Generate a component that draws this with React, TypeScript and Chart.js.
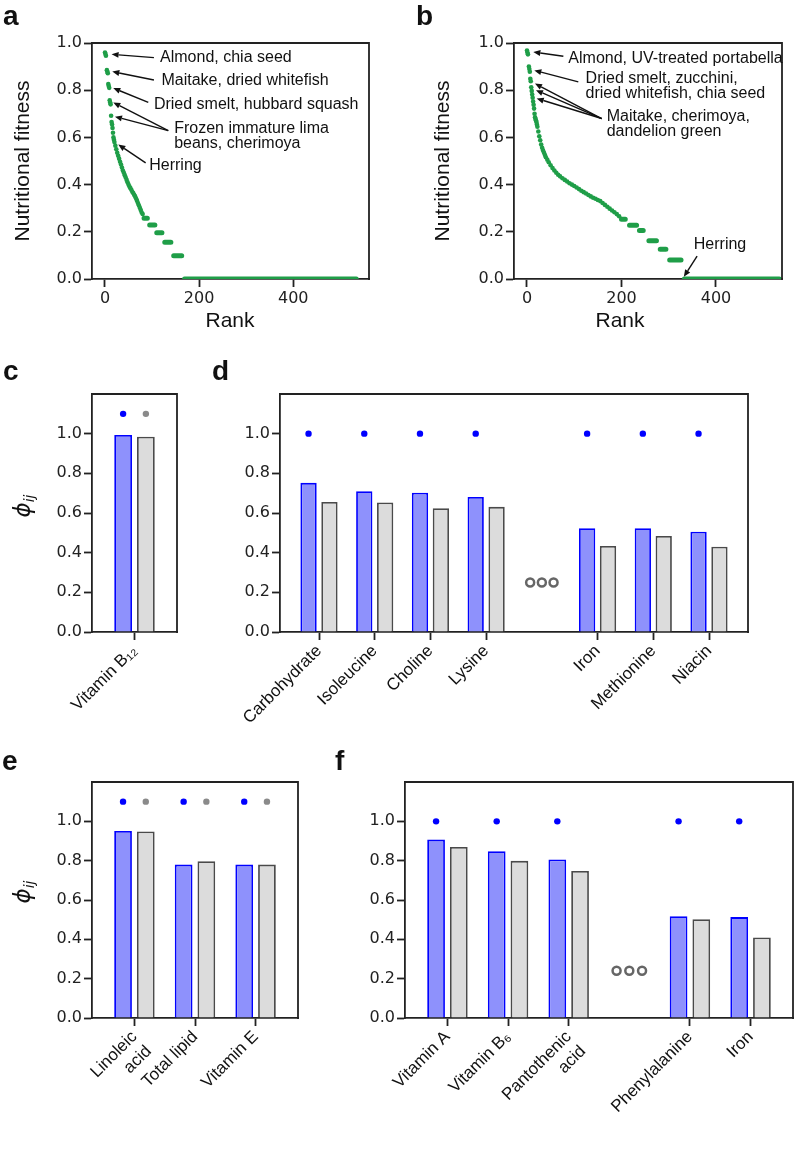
import React, { useEffect, useRef } from "react";
import { Chart, registerables } from "chart.js";

// ---------------- data ----------------
const RANK_TICKS = [0, 200, 400];
const FITNESS_TICKS = [0, 0.2, 0.4, 0.6, 0.8, 1.0];
const PHI_TICKS = [0, 0.2, 0.4, 0.6, 0.8, 1.0];

// panel a: ranked foods (distinct points) + plateaus of equal fitness
const A_RANK = [0, 1, 2, 4, 5, 6, 7, 8, 9, 10, 11, 12, 13, 14, 15, 16, 17, 18, 19, 20, 22, 24, 26, 28, 30, 32, 34, 36, 38, 40, 42, 44, 46, 48, 50, 52, 54, 56, 58, 60, 62, 64, 66, 68, 70, 72, 74, 76, 78, 80];
const A_FITNESS = [0.960, 0.953, 0.946, 0.885, 0.878, 0.872, 0.826, 0.818, 0.810, 0.757, 0.748, 0.740, 0.692, 0.665, 0.655, 0.640, 0.620, 0.600, 0.590, 0.580, 0.565, 0.550, 0.535, 0.522, 0.510, 0.497, 0.485, 0.472, 0.460, 0.450, 0.440, 0.430, 0.420, 0.410, 0.400, 0.392, 0.385, 0.378, 0.370, 0.364, 0.357, 0.350, 0.341, 0.332, 0.322, 0.312, 0.302, 0.292, 0.282, 0.275];
const A_STEP_FROM = [83, 95, 110, 127, 146, 169];
const A_STEP_TO = [90, 106, 121, 140, 163, 534];
const A_STEP_FITNESS = [0.257, 0.229, 0.196, 0.156, 0.098, 0];

// panel b
const B_RANK = [0, 1, 2, 4, 5, 6, 7, 8, 9, 10, 11, 12, 13, 14, 15, 16, 17, 18, 19, 20, 21, 22, 24, 26, 28, 30, 32, 34, 36, 38, 40, 43, 46, 50, 54, 58, 62, 66, 70, 75, 80, 85, 90, 95, 100, 105, 110, 115, 120, 125, 130, 135, 140, 145, 150, 155, 160, 165, 170, 175, 180, 185, 190, 195];
const B_FITNESS = [0.968, 0.960, 0.952, 0.900, 0.890, 0.878, 0.848, 0.838, 0.812, 0.797, 0.782, 0.768, 0.752, 0.738, 0.722, 0.700, 0.685, 0.678, 0.672, 0.665, 0.655, 0.645, 0.625, 0.605, 0.588, 0.570, 0.556, 0.545, 0.535, 0.525, 0.516, 0.505, 0.495, 0.482, 0.470, 0.460, 0.450, 0.442, 0.435, 0.427, 0.420, 0.413, 0.406, 0.400, 0.394, 0.388, 0.381, 0.374, 0.368, 0.362, 0.356, 0.350, 0.344, 0.340, 0.335, 0.330, 0.322, 0.314, 0.306, 0.298, 0.290, 0.283, 0.275, 0.266];
const B_STEP_FROM = [200, 217, 238, 258, 282, 302, 333];
const B_STEP_TO = [208, 232, 246, 274, 294, 326, 534];
const B_STEP_FITNESS = [0.253, 0.228, 0.205, 0.162, 0.126, 0.080, 0];

// annotations: text anchor, arrow tail and tips in (rank, fitness)
const A_NOTES = [
  { lines: ["Almond, chia seed"], text: [117, 0.937], tail: [104, 0.938], tips: [[14, 0.952]] },
  { lines: ["Maitake, dried whitefish"], text: [120, 0.84], tail: [104, 0.843], tips: [[15.5, 0.879]] },
  { lines: ["Dried smelt, hubbard squash"], text: [104, 0.741], tail: [92, 0.748], tips: [[17.6, 0.809]] },
  { lines: ["Frozen immature lima", "beans, cherimoya"], text: [147, 0.636], tail: [134.5, 0.629], tips: [[17.6, 0.748], [21.2, 0.688]] },
  { lines: ["Herring"], text: [94, 0.481], tail: [86.4, 0.492], tips: [[28.3, 0.57]] },
];
const B_NOTES = [
  { lines: ["Almond, UV-treated portabella"], text: [87.5, 0.934], tail: [77, 0.944], tips: [[13.4, 0.962]] },
  { lines: ["Dried smelt, zucchini,", "dried whitefish, chia seed"], text: [124, 0.849], tail: [108.6, 0.835], tips: [[15.5, 0.884]] },
  { lines: ["Maitake, cherimoya,", "dandelion green"], text: [168.7, 0.687], tail: [158, 0.68], tips: [[16.9, 0.828], [19, 0.8], [20.5, 0.765]] },
  { lines: ["Herring"], text: [353, 0.144], tail: [360, 0.097], tips: [[332, 0.01]] },
];

// bar panels (null = gap shown as "ooo")
const C_NUTRIENTS = ["Vitamin B₁₂"];
const C_BLUE = [0.993];
const C_GRAY = [0.985];
const C_BLUE_DOT = [1.1];
const C_GRAY_DOT = [1.1];

const D_NUTRIENTS = ["Carbohydrate", "Isoleucine", "Choline", "Lysine", null, "Iron", "Methionine", "Niacin"];
const D_BLUE = [0.752, 0.71, 0.702, 0.681, null, 0.523, 0.523, 0.506];
const D_GRAY = [0.656, 0.653, 0.624, 0.631, null, 0.434, 0.484, 0.43];
const D_BLUE_DOT = [1, 1, 1, 1, null, 1, 1, 1];
const D_GRAY_DOT = [null, null, null, null, null, null, null, null];
const D_GAP_LEVEL = 0.25;

const E_NUTRIENTS = [["Linoleic", "acid"], "Total lipid", "Vitamin E"];
const E_BLUE = [0.951, 0.78, 0.78];
const E_GRAY = [0.948, 0.797, 0.78];
const E_BLUE_DOT = [1.1, 1.1, 1.1];
const E_GRAY_DOT = [1.1, 1.1, 1.1];

const F_NUTRIENTS = ["Vitamin A", "Vitamin B₆", ["Pantothenic", "acid"], null, "Phenylalanine", "Iron"];
const F_BLUE = [0.907, 0.848, 0.806, null, 0.518, 0.513];
const F_GRAY = [0.87, 0.799, 0.748, null, 0.502, 0.409];
const F_BLUE_DOT = [1, 1, 1, null, 1, 1];
const F_GRAY_DOT = [null, null, null, null, null, null];
const F_GAP_LEVEL = 0.24;

// ---------------- style ----------------
const GREEN = "#1f9e48";
const BLUE_FILL = "#8e91fc";
const BLUE_EDGE = "#0000ff";
const GRAY_FILL = "#dcdcdc";
const GRAY_EDGE = "#4a4a4a";
const DOT_GRAY = "#8a8a8a";
const AXIS = "#222222";
const LS = '"Liberation Sans", Arial, sans-serif';
const TICK_FONT = { family: "DejaVu Sans", size: 16 };
const CAT_PCT = 0.75;
const BAR_PCT = 0.78;
const BAR_PAD = 0.7;
const OOO_OFFSETS = [-0.21, 0, 0.21];

type Box = { left: number; top: number; width: number; height: number; area: { l: number; t: number; r: number; b: number } };
const BOX_A: Box = { left: 0, top: 0, width: 400, height: 335, area: { l: 92, t: 43, r: 369, b: 279 } };
const BOX_B: Box = { left: 400, top: 0, width: 397, height: 335, area: { l: 114, t: 43, r: 382, b: 279 } };
const BOX_C: Box = { left: 0, top: 340, width: 200, height: 395, area: { l: 92, t: 54, r: 177, b: 292 } };
const BOX_D: Box = { left: 200, top: 340, width: 597, height: 395, area: { l: 80, t: 54, r: 548, b: 292 } };
const BOX_E: Box = { left: 0, top: 740, width: 320, height: 409, area: { l: 92, t: 42, r: 298, b: 278 } };
const BOX_F: Box = { left: 320, top: 740, width: 477, height: 409, area: { l: 85, t: 42, r: 473, b: 278 } };

// ---------------- plugin ----------------
function drawArrow(ctx: CanvasRenderingContext2D, x0: number, y0: number, x1: number, y1: number) {
  const ang = Math.atan2(y1 - y0, x1 - x0);
  const head = 7;
  const hw = 3;
  ctx.beginPath();
  ctx.moveTo(x0, y0);
  ctx.lineTo(x1 - Math.cos(ang) * head, y1 - Math.sin(ang) * head);
  ctx.stroke();
  ctx.beginPath();
  ctx.moveTo(x1, y1);
  ctx.lineTo(x1 - Math.cos(ang) * head - Math.sin(ang) * hw, y1 - Math.sin(ang) * head + Math.cos(ang) * hw);
  ctx.lineTo(x1 - Math.cos(ang) * head + Math.sin(ang) * hw, y1 - Math.sin(ang) * head - Math.cos(ang) * hw);
  ctx.closePath();
  ctx.fill();
}

const decorPlugin = {
  id: "decor",
  afterDraw(chart: any, _args: any, opts: any) {
    const ctx: CanvasRenderingContext2D = chart.ctx;
    const ca = chart.chartArea;
    ctx.save();
    if (opts.box) {
      ctx.strokeStyle = AXIS;
      ctx.lineWidth = 1.8;
      ctx.lineCap = "square";
      ctx.beginPath();
      ctx.moveTo(ca.left, ca.top);
      ctx.lineTo(ca.right, ca.top);
      ctx.lineTo(ca.right, ca.bottom);
      ctx.stroke();
    }
    const sx = chart.scales.x;
    const sy = chart.scales.y;
    for (const n of opts.notes || []) {
      const x = sx.getPixelForValue(n.text[0]);
      const y = sy.getPixelForValue(n.text[1]);
      ctx.font = `16px ${LS}`;
      ctx.fillStyle = "#111";
      ctx.textAlign = "left";
      ctx.textBaseline = "middle";
      n.lines.forEach((l: string, i: number) => ctx.fillText(l, x, y + i * 15));
      ctx.strokeStyle = "#111";
      ctx.lineWidth = 1.4;
      ctx.lineCap = "butt";
      const tx = sx.getPixelForValue(n.tail[0]);
      const ty = sy.getPixelForValue(n.tail[1]);
      for (const tip of n.tips) {
        drawArrow(ctx, tx, ty, sx.getPixelForValue(tip[0]), sy.getPixelForValue(tip[1]));
      }
    }
    for (const t of opts.texts || []) {
      ctx.save();
      ctx.translate(t.x, t.y);
      if (t.rotate) ctx.rotate((t.rotate * Math.PI) / 180);
      ctx.fillStyle = t.color || "#111";
      if (t.sub) {
        const f1 = t.font;
        const f2 = t.subFont;
        ctx.font = f1;
        const w1 = ctx.measureText(t.text).width;
        ctx.font = f2;
        const w2 = ctx.measureText(t.sub).width;
        const x0 = -(w1 + w2) / 2;
        ctx.textAlign = "left";
        ctx.textBaseline = "middle";
        ctx.font = f1;
        ctx.fillText(t.text, x0, 0);
        ctx.font = f2;
        ctx.fillText(t.sub, x0 + w1, 6);
      } else {
        ctx.font = t.font;
        ctx.textAlign = t.align || "left";
        ctx.textBaseline = t.baseline || "alphabetic";
        ctx.fillText(t.text, 0, 0);
      }
      ctx.restore();
    }
    ctx.restore();
  },
};

Chart.register(...registerables, decorPlugin);

// ---------------- config builders ----------------
const axisStyle = () => ({
  grid: { display: true, offset: false, drawOnChartArea: false, drawTicks: true, tickLength: 8, tickWidth: 1.8, tickColor: AXIS },
  border: { display: true, color: AXIS, width: 1.8 },
});

function baseOptions(box: Box, decor: any) {
  const { t, r } = box.area;
  return {
    responsive: false,
    animation: false,
    devicePixelRatio: 1,
    events: [],
    layout: { padding: { left: 0, top: t, right: box.width - r, bottom: 0 }, autoPadding: false },
    plugins: { legend: { display: false }, tooltip: { enabled: false }, decor },
  };
}

function yScale(box: Box, max: number, ticks: number[]) {
  return {
    type: "linear",
    min: 0,
    max,
    afterBuildTicks: (s: any) => {
      s.ticks = ticks.map((v) => ({ value: v }));
    },
    afterFit: (s: any) => {
      s.width = box.area.l;
    },
    ticks: { font: TICK_FONT, color: AXIS, padding: 2, callback: (v: any) => Number(v).toFixed(1) },
    ...axisStyle(),
  };
}

function rankConfig(box: Box, rank: number[], fit: number[], from: number[], to: number[], stepFit: number[], xMin: number, xMax: number, notes: any[], texts: any[]) {
  const steps: any[] = [];
  from.forEach((s, i) => {
    steps.push({ x: s, y: stepFit[i] }, { x: to[i], y: stepFit[i] }, { x: to[i], y: null });
  });
  return {
    type: "scatter",
    data: {
      datasets: [
        { data: rank.map((r, i) => ({ x: r, y: fit[i] })), pointRadius: 2.3, pointBackgroundColor: GREEN, pointBorderWidth: 0, showLine: false },
        { data: steps, showLine: true, borderColor: GREEN, borderWidth: 5, borderCapStyle: "round", pointRadius: 0, spanGaps: false },
      ],
    },
    options: {
      ...baseOptions(box, { box: true, notes, texts }),
      scales: {
        x: {
          type: "linear",
          min: xMin,
          max: xMax,
          afterBuildTicks: (s: any) => {
            s.ticks = RANK_TICKS.map((v) => ({ value: v }));
          },
          afterFit: (s: any) => {
            s.height = box.height - box.area.b;
          },
          ticks: { font: TICK_FONT, color: AXIS, padding: 2, maxRotation: 0, callback: (v: any) => String(v) },
          ...axisStyle(),
        },
        y: yScale(box, 1, FITNESS_TICKS),
      },
    },
  };
}

function phiConfig(box: Box, labels: any[], blue: (number | null)[], gray: (number | null)[], blueDot: (number | null)[], grayDot: (number | null)[], gapLevel: number | null, texts: any[]) {
  const n = labels.length;
  const xMin = -BAR_PAD;
  const xMax = n - 1 + BAR_PAD;
  const onlyOne = n === 1;
  const catPct = onlyOne ? CAT_PCT / (xMax - xMin) : CAT_PCT;
  const pts = (arr: (number | null)[], dx: number) =>
    arr.map((v, i) => (v == null ? null : { x: i + dx, y: v })).filter((p) => p !== null);
  const gapIdx = labels.findIndex((l) => l == null);
  const ooo = gapIdx >= 0 && gapLevel != null ? OOO_OFFSETS.map((o) => ({ x: gapIdx + o, y: gapLevel })) : [];
  const tickPos = labels.map((l, i) => (l == null ? -1 : i)).filter((i) => i >= 0);
  return {
    type: "bar",
    data: {
      datasets: [
        { type: "bar", data: pts(blue, 0), backgroundColor: BLUE_FILL, borderColor: BLUE_EDGE, borderWidth: 1.8, categoryPercentage: catPct, barPercentage: BAR_PCT },
        { type: "bar", data: pts(gray, 0), backgroundColor: GRAY_FILL, borderColor: GRAY_EDGE, borderWidth: 1.8, categoryPercentage: catPct, barPercentage: BAR_PCT },
        { type: "scatter", data: pts(blueDot, -CAT_PCT / 4), pointRadius: 3.2, pointBackgroundColor: BLUE_EDGE, pointBorderWidth: 0 },
        { type: "scatter", data: pts(grayDot, CAT_PCT / 4), pointRadius: 3.2, pointBackgroundColor: DOT_GRAY, pointBorderWidth: 0 },
        { type: "scatter", data: ooo, pointRadius: 4, pointBackgroundColor: "#ffffff", pointBorderColor: "#666666", pointBorderWidth: 2.5 },
      ],
    },
    options: {
      ...baseOptions(box, { box: true, texts }),
      scales: {
        x: {
          type: "linear",
          offset: false,
          min: xMin,
          max: xMax,
          afterBuildTicks: (s: any) => {
            s.ticks = tickPos.map((v) => ({ value: v }));
          },
          afterFit: (s: any) => {
            s.height = box.height - box.area.b;
          },
          ticks: {
            autoSkip: false,
            minRotation: 45,
            maxRotation: 45,
            padding: 1,
            color: "#111",
            font: { family: "Liberation Sans", size: 17 },
            callback: (v: any) => labels[Math.round(Number(v))] ?? "",
          },
          ...axisStyle(),
        },
        y: yScale(box, 1.2, PHI_TICKS),
      },
    },
  };
}

// ---------------- texts ----------------
const letter = (s: string, x: number, y: number) => ({ text: s, x, y, font: `bold 28px ${LS}` });
const title = (s: string, x: number, y: number, rotate = 0) => ({ text: s, x, y, font: `21px ${LS}`, align: "center", baseline: "middle", rotate });
const phi = (x: number, y: number) => ({ text: "ϕ", sub: "ij", x, y, rotate: -90, font: 'italic 23px "DejaVu Sans"', subFont: 'italic 14px "DejaVu Sans"' });

function ChartCanvas({ box, make }: { box: Box; make: () => any }) {
  const ref = useRef<HTMLCanvasElement | null>(null);
  useEffect(() => {
    if (!ref.current) return;
    const chart = new Chart(ref.current, make());
    return () => chart.destroy();
  }, []);
  return (
    <canvas
      ref={ref}
      width={box.width}
      height={box.height}
      style={{ position: "absolute", left: box.left, top: box.top, width: box.width, height: box.height, display: "block" }}
    />
  );
}

export default function App() {
  return (
    <div style={{ position: "absolute", left: 0, top: 0, width: 797, height: 1149, background: "#ffffff", overflow: "hidden" }}>
      <ChartCanvas
        box={BOX_A}
        make={() =>
          rankConfig(BOX_A, A_RANK, A_FITNESS, A_STEP_FROM, A_STEP_TO, A_STEP_FITNESS, -27.6, 561, A_NOTES, [
            letter("a", 3, 25),
            title("Nutritional fitness", 23, 161, -90),
            title("Rank", 230, 321),
          ])
        }
      />
      <ChartCanvas
        box={BOX_B}
        make={() =>
          rankConfig(BOX_B, B_RANK, B_FITNESS, B_STEP_FROM, B_STEP_TO, B_STEP_FITNESS, -27.5, 539.7, B_NOTES, [
            letter("b", 16, 25),
            title("Nutritional fitness", 43, 161, -90),
            title("Rank", 220, 321),
          ])
        }
      />
      <ChartCanvas box={BOX_C} make={() => phiConfig(BOX_C, C_NUTRIENTS, C_BLUE, C_GRAY, C_BLUE_DOT, C_GRAY_DOT, null, [letter("c", 3, 40), phi(24, 166)])} />
      <ChartCanvas box={BOX_D} make={() => phiConfig(BOX_D, D_NUTRIENTS, D_BLUE, D_GRAY, D_BLUE_DOT, D_GRAY_DOT, D_GAP_LEVEL, [letter("d", 12, 40)])} />
      <ChartCanvas box={BOX_E} make={() => phiConfig(BOX_E, E_NUTRIENTS, E_BLUE, E_GRAY, E_BLUE_DOT, E_GRAY_DOT, null, [letter("e", 2, 30), phi(24, 152)])} />
      <ChartCanvas box={BOX_F} make={() => phiConfig(BOX_F, F_NUTRIENTS, F_BLUE, F_GRAY, F_BLUE_DOT, F_GRAY_DOT, F_GAP_LEVEL, [letter("f", 15, 30)])} />
    </div>
  );
}
